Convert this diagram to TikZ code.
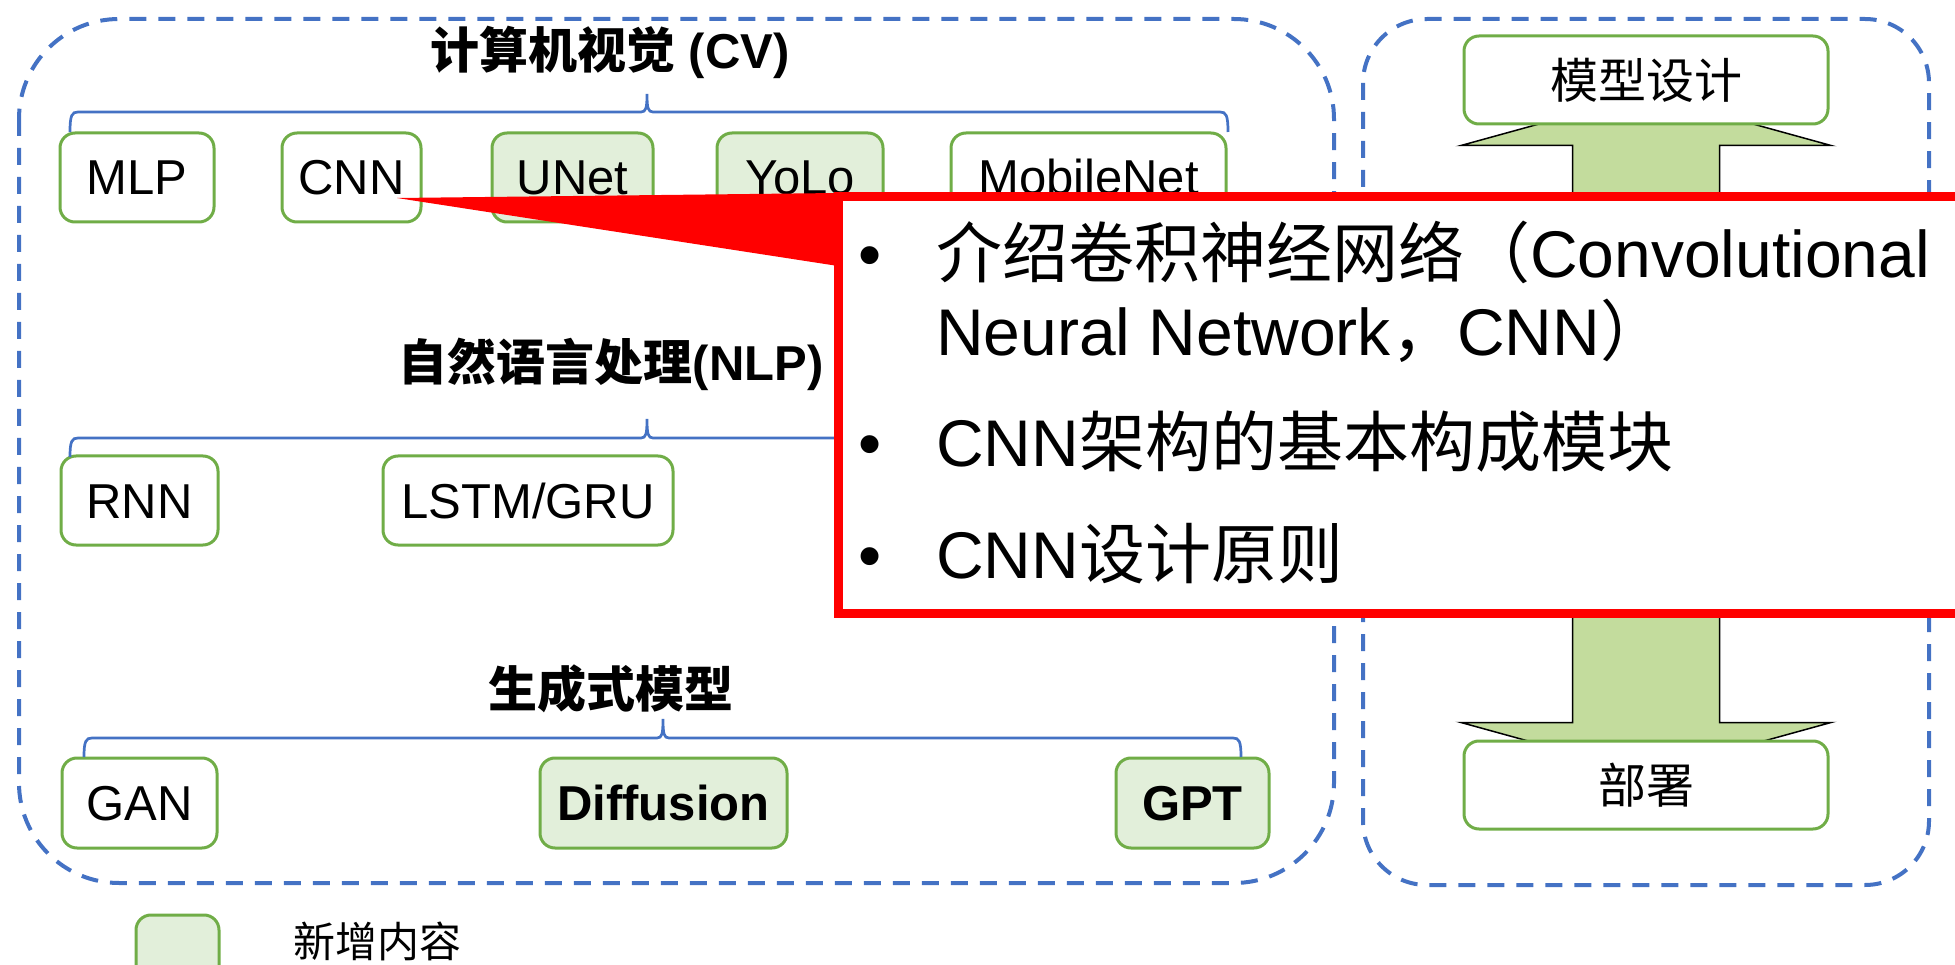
\documentclass[tikz,border=0pt]{standalone}
\usepackage{fontspec}
\setmainfont{Liberation Sans}
\newfontfamily\cjk{Noto Sans CJK SC}
\usetikzlibrary{calc,backgrounds}
\definecolor{dashblue}{HTML}{4472C4}
\definecolor{boxgreen}{HTML}{70AD47}
\definecolor{newfill}{HTML}{E2EFDA}
\definecolor{arrowfill}{RGB}{195,220,157}
\definecolor{calloutred}{HTML}{FF0000}

% brace: x-left, x-right, x-tip, y-line, y-tip, y-ends
\newcommand\brcpath[6]{%
  \draw[brc] (#1,#6) .. controls (#1,#4+3) and (#1+2,#4) .. (#1+8,#4)
    -- (#3-6,#4) .. controls (#3-1,#4) and (#3,#4-4) .. (#3,#5)
    .. controls (#3,#4-4) and (#3+1,#4) .. (#3+6,#4)
    -- (#2-8,#4) .. controls (#2-2,#4) and (#2,#4+3) .. (#2,#6);}

\tikzset{
  lbl/.style={font=\fontsize{49}{59}\selectfont},
  mbox/.style={draw=boxgreen, line width=3pt, rounded corners=15pt, fill=white,
    inner sep=0pt, minimum height=89pt, text height=35pt, text depth=0pt, lbl},
  newbox/.style={mbox, fill=newfill},
  boldlbl/.style={font=\fontsize{49}{59}\selectfont\bfseries},
  cjkbox/.style={mbox, font={\cjk\fontsize{48}{58}\selectfont},
    text height=40pt, text depth=3.5pt, minimum height=88pt},
  ttl/.style={font=\fontsize{49}{59}\selectfont\bfseries, anchor=base, inner sep=0pt},
  region/.style={draw=dashblue, line width=4pt, dash pattern=on 17pt off 12pt},
  brc/.style={draw=dashblue, line width=2.7pt},
  pointtxt/.style={font=\fontsize{66}{80}\selectfont, anchor=base west, inner sep=0pt},
  bul/.style={font=\fontsize{66}{76}\selectfont, anchor=base, inner sep=0pt},
  calloutbox/.style={draw=calloutred, line width=9pt, fill=white, inner sep=0pt,
    outer sep=0pt, anchor=north west},
  blockarrow/.style={fill=arrowfill, draw=black, line width=1.5pt},
  legtxt/.style={font={\cjk\fontsize{42}{50}\selectfont}, anchor=base west, inner sep=0pt}
}

\begin{document}
\begin{tikzpicture}[x=1pt, y=-1pt]
\useasboundingbox (0,0) rectangle (1955,965);
\clip (0,0) rectangle (1955,965);

% dashed regions
\draw[region, rounded corners=100pt] (19,19) rectangle (1334,883);
\draw[region, rounded corners=64pt] (1363,19) rectangle (1929,885);

% group titles
\node[ttl] (cvtitle) at (610,69) {{\cjk 计算机视觉} (CV)};
\node[ttl] (nlptitle) at (611,381) {{\cjk 自然语言处理}(NLP)};
\node[ttl] (gentitle) at (611,707) {\cjk 生成式模型};

% computer vision models
\node[mbox, minimum width=154pt] (mlp) at (137,177.5) {MLP};
\node[mbox, minimum width=139pt] (cnn) at (351.5,177.5) {CNN};
\node[newbox, minimum width=161pt] (unet) at (572.5,177.5) {UNet};
\node[newbox, minimum width=166pt] (yolo) at (800,177.5) {YoLo};
\node[mbox, minimum width=275pt] (mobilenet) at (1088.5,177.5) {MobileNet};

% NLP models
\node[mbox, minimum width=157pt] (rnn) at (139.5,500.5) {RNN};
\node[mbox, minimum width=290pt] (lstm) at (528,500.5) {LSTM/GRU};

% generative models
\node[mbox, minimum width=155pt, minimum height=90pt] (gan) at (139.5,803) {GAN};
\node[newbox, boldlbl, minimum width=247pt, minimum height=90pt] (diffusion) at (663.5,803) {Diffusion};
\node[newbox, boldlbl, minimum width=153pt, minimum height=90pt] (gpt) at (1192.5,803) {GPT};

% legend
\node[newbox, minimum width=83pt] (legbox) at (177.5,959.5) {};
\node[legtxt] (legend) at (293,957) {新增内容};

% workflow on the right
\node[cjkbox, minimum width=364pt] (design) at (1646,80) {模型设计};
\node[cjkbox, minimum width=364pt] (deploy) at (1646,785) {部署};
\begin{scope}[on background layer]
\draw[blockarrow] ($(design.south)+(0,-31)$) -- ++(185,51) -- ++(-111.5,0)
  -- ($(deploy.north)+(73.5,-17)$) -- ++(111.5,0) -- ($(deploy.north)+(0,34)$)
  -- ++(-185,-51) -- ++(111.5,0) -- ($(design.south)+(-73.5,20)$) -- ++(-111.5,0) -- cycle;
\end{scope}

% braces under the titles
\brcpath{70}{1228}{647}{112}{94}{132}
\brcpath{70}{1224}{647}{438}{419}{457}
\brcpath{84}{1241}{663}{738}{719}{757}

% callout for CNN
\coordinate (ptr) at ($(cnn.center)+(45.5,20.5)$);
\node[calloutbox, minimum width=1162pt, minimum height=416pt] (callout) at (838,197) {};
\fill[calloutred] (ptr) -- ($(callout.north west)+(0,-4)$) -- ($(callout.north west)+(0,69)$) -- cycle;

\node[bul] (b1) at (870,278) {•};
\node[pointtxt] (p1a) at (936,278) {{\cjk 介绍卷积神经网络（}Convolutional};
\node[pointtxt] (p1b) at (936,356) {Neural Network{\cjk ，}CNN{\cjk ）}};
\node[bul] (b2) at (870,466) {•};
\node[pointtxt] (p2) at (936,466) {CNN{\cjk 架构的基本构成模块}};
\node[bul] (b3) at (870,578) {•};
\node[pointtxt] (p3) at (936,578) {CNN{\cjk 设计原则}};
\end{tikzpicture}
\end{document}
